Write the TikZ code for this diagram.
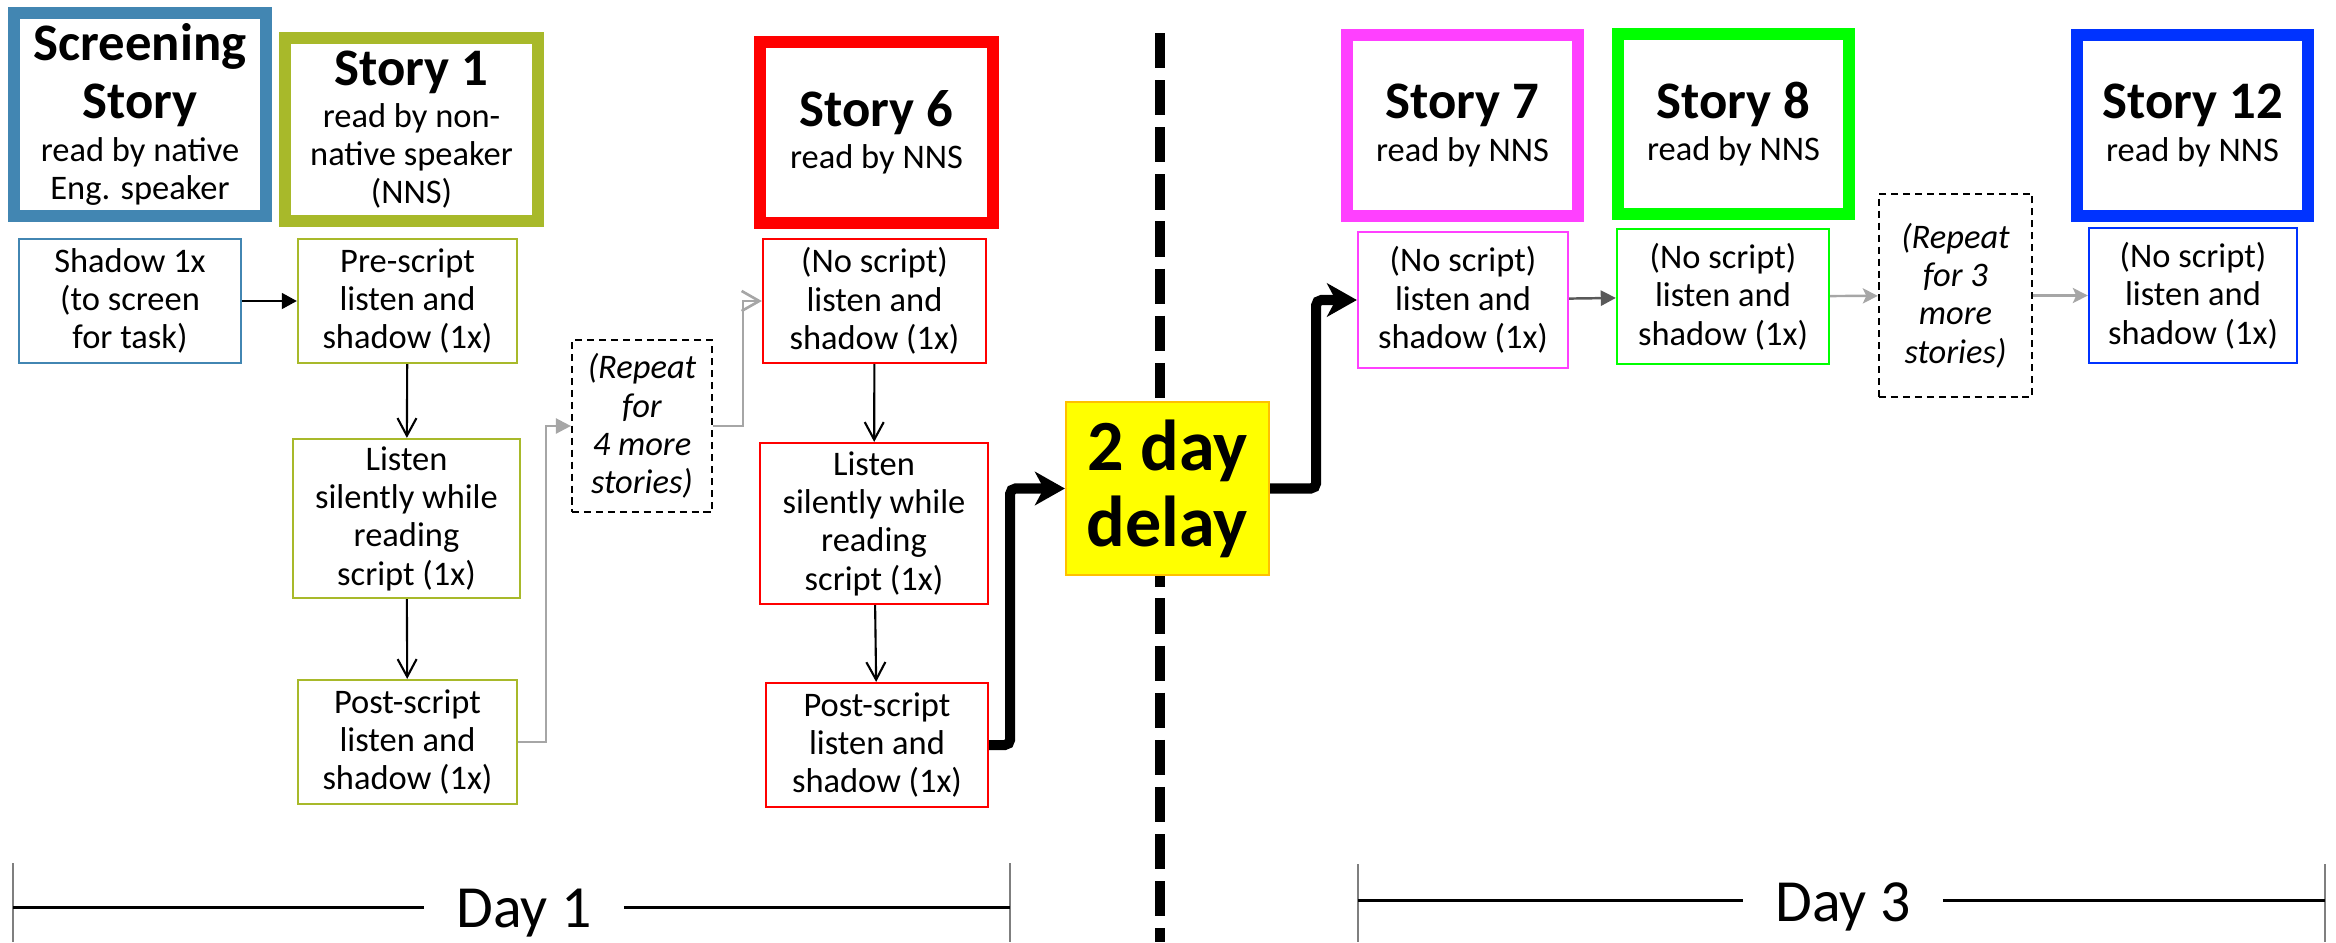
\documentclass[tikz,border=0pt]{standalone}
\usepackage{fontspec}
\setmainfont{Carlito}
\usetikzlibrary{arrows.meta}
\definecolor{ScreenBlue}{RGB}{66,134,178}
\definecolor{StoryOlive}{RGB}{168,185,42}
\definecolor{StoryRed}{RGB}{255,0,0}
\definecolor{StoryPink}{RGB}{255,64,255}
\definecolor{StoryGreen}{RGB}{0,255,0}
\definecolor{StoryBlue}{RGB}{0,51,255}
\definecolor{DelayYellow}{RGB}{255,255,0}
\definecolor{DelayOrange}{RGB}{255,192,0}
\definecolor{LinkGray}{RGB}{166,166,166}
\definecolor{LinkDark}{RGB}{89,89,89}
\definecolor{TickGray}{RGB}{127,127,127}
\newcommand{\storyfont}{\fontsize{15}{18}\selectfont\bfseries}

\begin{document}
\begin{tikzpicture}[x=0.01cm, y=-0.01cm,
    every node/.style={font=\fontsize{9.8}{10.9}\selectfont, align=center, inner sep=0pt},
    storybox/.style={draw=#1, fill=white, line width=3.4pt},
    taskbox/.style={draw=#1, fill=white, line width=0.6pt},
    repeatbox/.style={draw, dashed, line width=0.6pt, dash pattern=on 2pt off 1.4pt, font=\fontsize{9.8}{10.9}\selectfont\itshape},
    down/.style={line width=0.6pt, -{Straight Barb[length=5pt, width=5.4pt]}},
    bigflow/.style={line width=2.85pt, rounded corners=1.5pt, -{Stealth[length=8.5pt, width=9.5pt, inset=2.5pt]}},
    dayline/.style={line width=0.85pt},
    tick/.style={TickGray, line width=0.6pt},
    dayfont/.style={font=\fontsize{17}{20}\selectfont, anchor=base, inner xsep=9pt}]
    \useasboundingbox (0,0) rectangle (2336,942);

    % divider between the two days
    \draw[line width=2.85pt, dash pattern=on 10pt off 3.4pt] (1160,33) -- (1160,942);

    % Story boxes (top row)
    \node[storybox=ScreenBlue, minimum width=2.52cm, minimum height=2.03cm] (scr) at (140,114.5)
        {{\storyfont Screening}\\[3pt]{\storyfont Story}\\[1.3pt]read by native\\Eng. speaker};
    \node[storybox=StoryOlive, minimum width=2.53cm, minimum height=1.83cm] (story1) at (411.5,129.5)
        {{\storyfont Story 1}\\[1pt]read by non-\\native speaker\\(NNS)};
    \node[storybox=StoryRed, minimum width=2.33cm, minimum height=1.81cm] (story6) at (876.5,132.5)
        {{\storyfont Story 6}\\[1.1pt]read by NNS};
    \node[storybox=StoryPink, minimum width=2.31cm, minimum height=1.81cm] (story7) at (1462.5,125.5)
        {{\storyfont Story 7}\\[1.1pt]read by NNS};
    \node[storybox=StoryGreen, minimum width=2.31cm, minimum height=1.80cm] (story8) at (1733.5,124)
        {{\storyfont Story 8}\\[1.1pt]read by NNS};
    \node[storybox=StoryBlue, minimum width=2.31cm, minimum height=1.81cm] (story12) at (2192.5,125.5)
        {{\storyfont Story 12}\\[1.1pt]read by NNS};

    % Day 1 tasks
    \node[taskbox=ScreenBlue, minimum width=2.22cm, minimum height=1.24cm] (shadow0) at (130,301)
        {Shadow 1x\\(to screen\\for task)};
    \node[taskbox=StoryOlive, minimum width=2.19cm, minimum height=1.24cm] (pre1) at (407.5,301)
        {Pre-script\\listen and\\shadow (1x)};
    \node[taskbox=StoryOlive, minimum width=2.27cm, minimum height=1.59cm] (listen1) at (406.5,518.5)
        {Listen\\silently while\\reading\\script (1x)};
    \node[taskbox=StoryOlive, minimum width=2.19cm, minimum height=1.24cm] (post1) at (407.5,742)
        {Post-script\\listen and\\shadow (1x)};
    \node[repeatbox, minimum width=1.40cm, minimum height=1.72cm] (rep4) at (642,426)
        {(Repeat\\for\\4 more\\stories)};
    \node[taskbox=StoryRed, minimum width=2.23cm, minimum height=1.24cm] (noscr6) at (874.5,301)
        {(No script)\\listen and\\shadow (1x)};
    \node[taskbox=StoryRed, minimum width=2.28cm, minimum height=1.61cm] (listen6) at (874,523.5)
        {Listen\\silently while\\reading\\script (1x)};
    \node[taskbox=StoryRed, minimum width=2.22cm, minimum height=1.24cm] (post6) at (877,745)
        {Post-script\\listen and\\shadow (1x)};

    % the break
    \node[draw=DelayOrange, fill=DelayYellow, line width=0.6pt, minimum width=2.03cm, minimum height=1.73cm,
        font=\fontsize{20.5}{21.6}\selectfont\bfseries] (delay) at (1167.5,488.5) {2 day\\delay};

    % Day 3 tasks
    \node[taskbox=StoryPink, minimum width=2.10cm, minimum height=1.36cm] (noscr7) at (1463,300)
        {(No script)\\listen and\\shadow (1x)};
    \node[taskbox=StoryGreen, minimum width=2.12cm, minimum height=1.35cm] (noscr8) at (1723,296.5)
        {(No script)\\listen and\\shadow (1x)};
    \node[repeatbox, minimum width=1.53cm, minimum height=2.03cm] (rep3) at (1955.5,295.5)
        {(Repeat\\for 3\\more\\stories)};
    \node[taskbox=StoryBlue, minimum width=2.08cm, minimum height=1.35cm] (noscr12) at (2193,295.5)
        {(No script)\\listen and\\shadow (1x)};

    % arrows
    \draw[line width=0.7pt, -{Triangle[length=4.3pt, width=4.5pt]}] (shadow0) -- (pre1);
    \draw[down] (pre1) -- (listen1);
    \draw[down] (listen1) -- (post1);
    \draw[LinkGray, line width=0.7pt, -{Triangle[length=4.3pt, width=4.3pt]}] (post1.east) -- ++(28,0) |- (rep4.west);
    \draw[LinkGray, line width=0.75pt, -{Straight Barb[length=5pt, width=5.7pt]}] (rep4.east) -- ++(30,0) |- (noscr6.west);
    \draw[down] (noscr6) -- (listen6);
    \draw[down] (listen6) -- (post6);
    \draw[bigflow] (post6.east) -- ++(21,0) |- (delay.west);
    \draw[bigflow] (delay.east) -- ++(46,0) |- (noscr7.west);
    \draw[LinkDark, line width=0.7pt, -{Triangle[length=4.3pt, width=4.3pt]}] (noscr7) -- (noscr8);
    \draw[LinkGray, line width=0.7pt, -{Stealth[length=4.3pt, width=4.3pt, inset=1pt]}] (noscr8) -- (rep3);
    \draw[LinkGray, line width=0.7pt, -{Stealth[length=4.3pt, width=4.3pt, inset=1pt]}] (rep3) -- (noscr12);

    % day brackets
    \coordinate (d1a) at (13,907);
    \coordinate (d1b) at (1010,907);
    \node[dayfont] (day1) at (524,927) {Day 1};
    \draw[tick] (d1a) ++(0,-44) -- ++(0,79);
    \draw[tick] (d1b) ++(0,-44) -- ++(0,79);
    \draw[dayline] (d1a) -- (d1a -| day1.west);
    \draw[dayline] (day1.east |- d1b) -- (d1b);

    \coordinate (d3a) at (1358,900);
    \coordinate (d3b) at (2325,900);
    \node[dayfont] (day3) at (1843,921) {Day 3};
    \draw[tick] (d3a) ++(0,-36) -- ++(0,78);
    \draw[tick] (d3b) ++(0,-36) -- ++(0,78);
    \draw[dayline] (d3a) -- (d3a -| day3.west);
    \draw[dayline] (day3.east |- d3b) -- (d3b);
\end{tikzpicture}
\end{document}
